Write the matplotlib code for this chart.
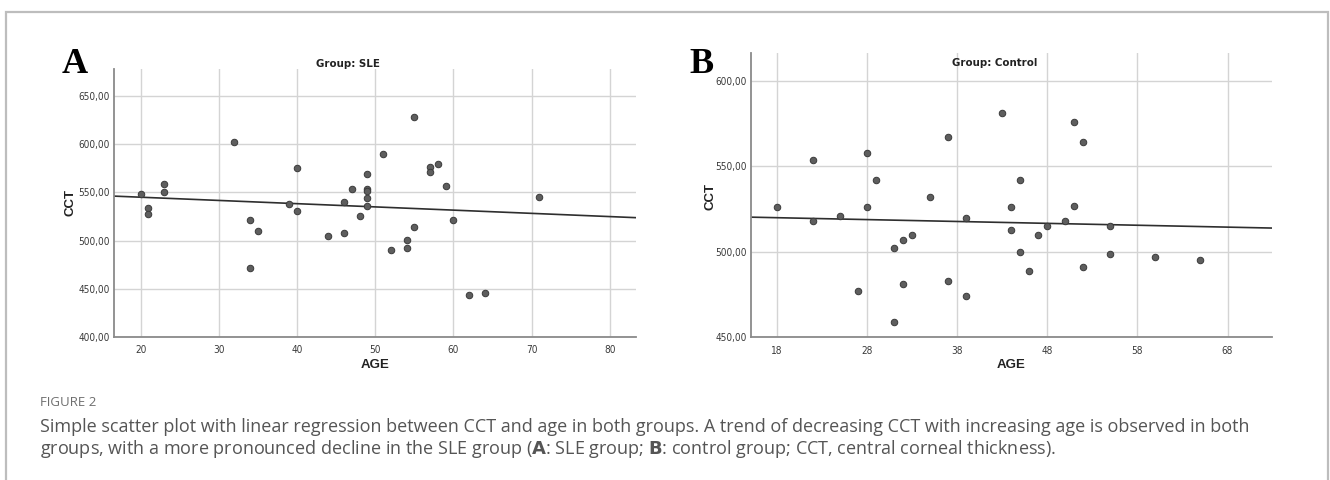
import numpy as np
import matplotlib
matplotlib.use("Agg")
import matplotlib.pyplot as plt
from matplotlib.patches import Rectangle

# ---- data ----
sle_age = [20, 21, 21, 23, 23, 32, 34, 35, 34, 39, 40, 40, 44, 46, 46, 47, 48,
           49, 49, 49, 49, 49, 51, 55, 57, 57, 58, 59, 60, 55, 54, 54, 52, 62, 64, 71]
sle_cct = [548, 534, 528, 559, 551, 603, 521, 510, 471, 538, 575, 531, 505, 540, 508, 554, 526,
           569, 554, 552, 544, 536, 590, 628, 577, 571, 580, 557, 521, 514, 501, 492, 490, 443, 445, 545]

ctl_age = [18, 22, 22, 25, 28, 28, 29, 27, 31, 32, 33, 32, 31, 35, 37, 37, 39, 39, 43,
           44, 44, 45, 45, 46, 47, 48, 50, 51, 51, 52, 52, 55, 55, 60, 65]
ctl_cct = [526, 554, 518, 521, 558, 526, 542, 477, 502, 507, 510, 481, 459, 532, 567, 483, 520, 474, 581,
           526, 513, 542, 500, 489, 510, 515, 518, 576, 527, 564, 491, 515, 499, 497, 495]

sle_xticks = [20, 30, 40, 50, 60, 70, 80]
sle_yticks = [400, 450, 500, 550, 600, 650]
ctl_xticks = [18, 28, 38, 48, 58, 68]
ctl_yticks = [450, 500, 550, 600]

titles = ["Group: SLE", "Group: Control"]
panel_letters = ["A", "B"]
caption_head = "FIGURE 2"
caption_lines = [
    "Simple scatter plot with linear regression between CCT and age in both groups. A trend of decreasing CCT with increasing age is observed in both",
    "groups, with a more pronounced decline in the SLE group (",
]

W, H = 1330, 480
fig = plt.figure(figsize=(W / 100, H / 100), dpi=100)
fig.patch.set_facecolor("white")

# outer frame
fig.add_artist(Rectangle((6 / W, -0.1), (1328 - 6) / W, 1.1 - 12 / H,
                         transform=fig.transFigure, fill=False,
                         edgecolor="#bdbdbd", linewidth=1.6))

narrow = ["Liberation Sans Narrow", "DejaVu Sans"]


def fmt(v):
    return f"{v:.2f}".replace(".", ",")


def panel(rect, ages, ccts, xlim, ylim, xticks, yticks):
    l, t, r, b = rect
    ax = fig.add_axes([l / W, 1 - b / H, (r - l) / W, (b - t) / H])
    ax.set_xlim(*xlim)
    ax.set_ylim(*ylim)
    ax.set_xticks(xticks)
    ax.set_yticks(yticks)
    ax.set_xticklabels([str(v) for v in xticks], family=narrow, fontsize=7.2,
                       stretch="condensed", color="#3a3a3a")
    ax.set_yticklabels([fmt(v) for v in yticks], family=narrow, fontsize=7.2,
                       stretch="condensed", color="#3a3a3a")
    ax.tick_params(axis="x", length=0, pad=6)
    ax.tick_params(axis="y", length=0, pad=3)
    ax.grid(True, color="#d4d4d4", linewidth=1.0)
    ax.set_axisbelow(True)
    for s in ["top", "right"]:
        ax.spines[s].set_visible(False)
    for s in ["left", "bottom"]:
        ax.spines[s].set_color("#8a8a8a")
        ax.spines[s].set_linewidth(1.3)
    ax.scatter(ages, ccts, s=22, color="#5e5e5e", edgecolor="#3a3a3a", linewidth=0.7, zorder=3)
    k, c = np.polyfit(ages, ccts, 1)
    xs = np.array(xlim)
    ax.plot(xs, c + k * xs, color="#2e2e2e", linewidth=1.2, zorder=2)
    return ax


axA = panel((114, 69, 635.7, 336.7), sle_age, sle_cct, (16.6, 83.3), (400, 678.4),
            sle_xticks, sle_yticks)
axB = panel((751, 53.3, 1271.7, 337.3), ctl_age, ctl_cct, (15.15, 72.9), (450, 616.2),
            ctl_xticks, ctl_yticks)

# titles, axis labels
fig.text(348 / W, 1 - 64 / H, titles[0], family=narrow, fontsize=8.2, fontweight="bold",
         stretch="condensed", ha="center", va="center", color="#222222")
fig.text(995 / W, 1 - 63 / H, titles[1], family=narrow, fontsize=8.2, fontweight="bold",
         stretch="condensed", ha="center", va="center", color="#222222")
for x, y in [(71, 203), (711, 197)]:
    fig.text(x / W, 1 - y / H, "CCT", fontsize=9.5, fontweight="bold", rotation=90,
             ha="center", va="center", color="#222222", family=["Liberation Sans", "DejaVu Sans"])
for x in [375, 1011.5]:
    fig.text(x / W, 1 - 365 / H, "AGE", fontsize=9.5, fontweight="bold",
             ha="center", va="center", color="#222222", family=["Liberation Sans", "DejaVu Sans"])

# panel letters
fig.text(62 / W, 1 - 73 / H, panel_letters[0], family=["Liberation Serif", "DejaVu Serif"],
         fontsize=26, fontweight="bold", ha="left", va="baseline", color="black")
fig.text(689 / W, 1 - 73 / H, panel_letters[1], family=["Liberation Serif", "DejaVu Serif"],
         fontsize=26, fontweight="bold", ha="left", va="baseline", color="black")

# caption
cap_font = ["Open Sans", "DejaVu Sans"]
fig.text(40 / W, 1 - 403 / H, caption_head, family=cap_font, fontsize=9.5,
         ha="left", va="center", color="#6e6e6e")
fig.text(40 / W, 1 - 427 / H, caption_lines[0], family=cap_font, fontsize=12.95,
         ha="left", va="center", color="#555555")
line2 = (caption_lines[1] + r"$\bf{A}$" + ": SLE group; " + r"$\bf{B}$"
         + ": control group; CCT, central corneal thickness).")
fig.text(40 / W, 1 - 449 / H, line2, family=cap_font, fontsize=12.95,
         ha="left", va="center", color="#555555")

fig.savefig("out.png", dpi=100, facecolor="white")
